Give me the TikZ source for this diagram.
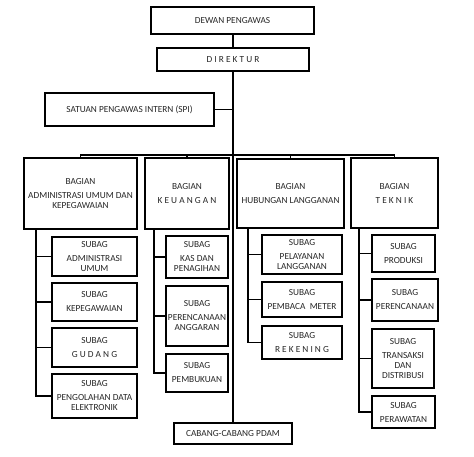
\documentclass[tikz,border=0pt]{standalone}
\usepackage{fontspec}
\setmainfont{Carlito}
\begin{document}
\begin{tikzpicture}[x=1pt,y=-1pt,
  box/.style={draw, line width=1.3pt, inner sep=0pt, align=center,
    font=\fontsize{9.3}{10}\selectfont, text=black!85},
  conn/.style={line width=1.3pt},
  trunk/.style={line width=1.9pt}]
\useasboundingbox (0,0) rectangle (474,456);
% top
\node[box, minimum width=163, minimum height=27] (dewan) at (232.5,20.5) {DEWAN PENGAWAS};
\node[box, minimum width=152, minimum height=23] (dir) at (233,59.5) {D I R E K T U R};
\node[box, minimum width=169, minimum height=33] (spi) at (129.5,109.5) {SATUAN PENGAWAS INTERN (SPI)};
% bagian
\node[box, minimum width=113, minimum height=71] (adm) at (80.5,193.5) {BAGIAN\\[4pt]ADMINISTRASI UMUM DAN\\KEPEGAWAIAN};
\node[box, minimum width=84, minimum height=71] (keu) at (187,193.5) {BAGIAN\\[4pt]K E U A N G A N};
\node[box, minimum width=107, minimum height=69] (hub) at (290.5,193.5) {BAGIAN\\[4pt]HUBUNGAN LANGGANAN};
\node[box, minimum width=87, minimum height=70] (tek) at (394.5,193) {BAGIAN\\[4pt]T E K N I K};
% subag admin
\node[box, minimum width=85, minimum height=39] (a1) at (94.5,256.5) {SUBAG\\[4pt]ADMINISTRASI\\UMUM};
\node[box, minimum width=85, minimum height=38] (a2) at (94.5,302) {SUBAG\\[4pt]KEPEGAWAIAN};
\node[box, minimum width=85, minimum height=39] (a3) at (94.5,347.5) {SUBAG\\[4pt]G U D A N G};
\node[box, minimum width=85, minimum height=44] (a4) at (94.5,396) {SUBAG\\[4pt]PENGOLAHAN DATA\\ELEKTRONIK};
% subag keuangan
\node[box, minimum width=62, minimum height=42] (k1) at (197,257) {SUBAG\\[4pt]KAS DAN\\PENAGIHAN};
\node[box, minimum width=62, minimum height=60] (k2) at (197,316) {SUBAG\\[4pt]PERENCANAAN\\ANGGARAN};
\node[box, minimum width=62, minimum height=38] (k3) at (197,373) {SUBAG\\[4pt]PEMBUKUAN};
% subag hubungan
\node[box, minimum width=80, minimum height=39] (h1) at (302,254.5) {SUBAG\\[4pt]PELAYANAN\\LANGGANAN};
\node[box, minimum width=80, minimum height=35] (h2) at (302,299.5) {SUBAG\\[4pt]PEMBACA\ \ METER};
\node[box, minimum width=80, minimum height=33] (h3) at (302,342.5) {SUBAG\\[4pt]R E K E N I N G};
% subag teknik
\node[box, minimum width=63, minimum height=37] (t1) at (403.5,253.5) {SUBAG\\[4pt]PRODUKSI};
\node[box, minimum width=66, minimum height=42] (t2) at (405,300) {SUBAG\\[4pt]PERENCANAAN};
\node[box, minimum width=62, minimum height=59] (t3) at (403,358.5) {SUBAG\\[4pt]TRANSAKSI\\DAN\\DISTRIBUSI};
\node[box, minimum width=63, minimum height=32] (t4) at (403.5,412) {SUBAG\\[4pt]PERAWATAN};
% cabang
\node[box, minimum width=118, minimum height=21] (cab) at (233,433.5) {CABANG-CABANG PDAM};
% connectors
\draw[conn] (dewan.south) -- (dir.south |- dewan.south) -- (dir.north);
\draw[trunk] (dir.south) -- (cab.north);
\draw[conn] (spi.east) -- (spi.east -| dir.south);
\coordinate (bus) at (233,155);
\draw[conn] (adm.north) |- (bus) -| (tek.north);
\draw[conn] (keu.north) -- (keu.north |- bus);
\draw[conn] (hub.north) -- (hub.north |- bus);
% admin branch
\coordinate (av) at (36,229);
\draw[conn] (av) |- (a4.west);
\foreach \n in {a1,a2,a3} \draw[conn] (\n.west) -- (\n.west -| av);
% keuangan branch
\coordinate (kv) at (154,229);
\draw[conn] (kv) |- (k3.west);
\foreach \n in {k1,k2} \draw[conn] (\n.west) -- (\n.west -| kv);
% hubungan branch
\coordinate (hv) at (248,228);
\draw[conn] (hv) |- (h3.west);
\foreach \n in {h1,h2} \draw[conn] (\n.west) -- (\n.west -| hv);
% teknik branch
\coordinate (tv) at (359,228);
\draw[conn] (tv) |- (t4.west);
\foreach \n in {t1,t2,t3} \draw[conn] (\n.west) -- (\n.west -| tv);
\end{tikzpicture}
\end{document}
